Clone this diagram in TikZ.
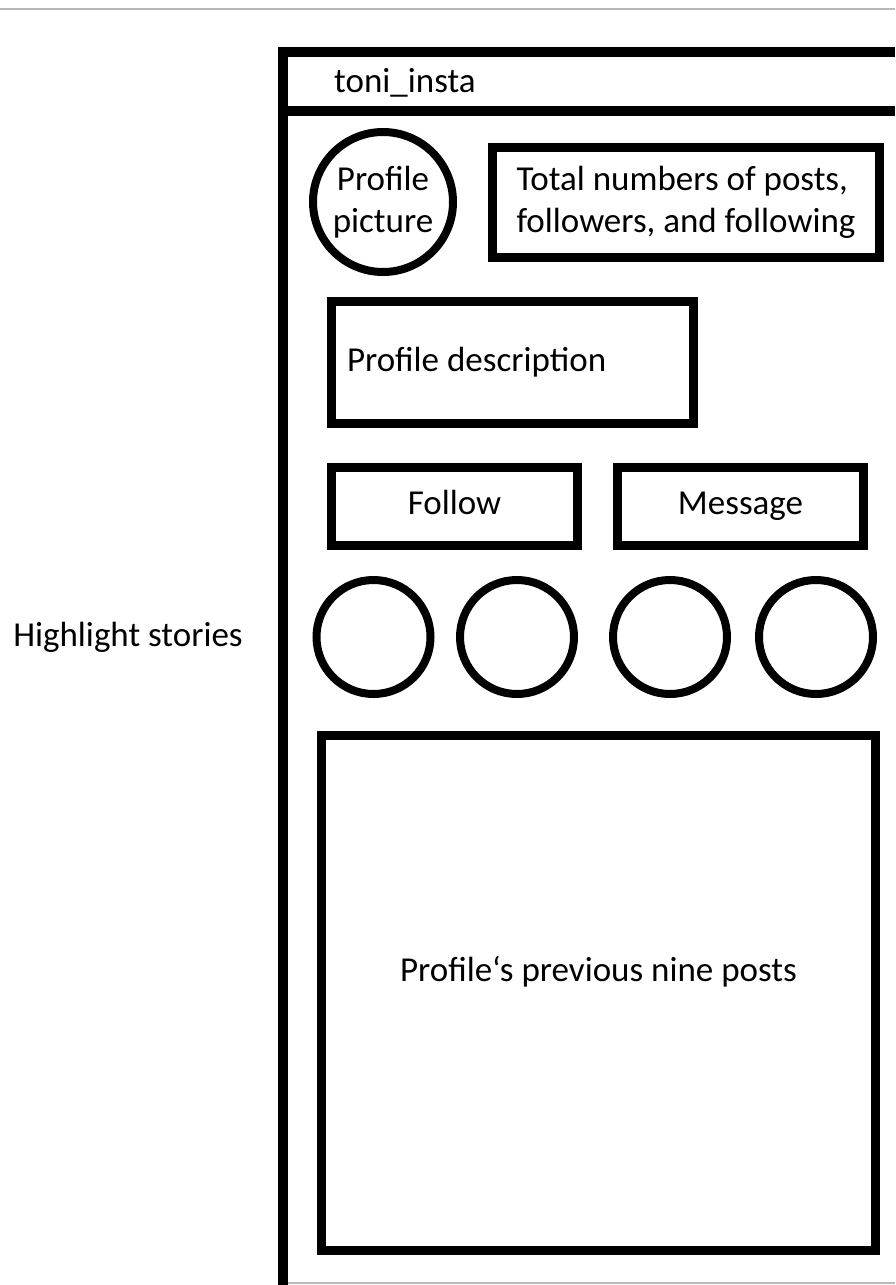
\documentclass[tikz,border=0pt]{standalone}
\usepackage{fontspec}
\setmainfont{Carlito}
\usetikzlibrary{positioning}

\begin{document}
\begin{tikzpicture}[x=1pt,y=-1pt,font=\fontsize{35}{42}\selectfont,
 box/.style={draw,rectangle,line width=9pt,inner sep=0pt},
 btn/.style={box,minimum width=246pt,minimum height=78pt,text height=24pt,text depth=8pt},
 ring/.style={draw,circle,line width=8pt,inner sep=0pt},
 frame/.style={line width=10pt},
 edge/.style={gray!55,line width=1.5pt}]
\useasboundingbox (0,0) rectangle (895,1285);
% screenshot edges
\draw[edge] (0,9)--(895,9);
\draw[edge] (282,1283)--(895,1283);
% phone frame and header bar
\draw[frame] (895,52) -| (283,1290);
\draw[frame] (283,111)--(895,111);
\node[anchor=base west,inner sep=0pt] (title) at (334,92) {toni\_insta};
% profile header
\node[ring,minimum size=140pt,align=center] (pic) at (383,202) {Profile\\picture};
\node[box,minimum width=387pt,minimum height=110pt,align=flush left] (stats) at (686,202.5) {Total numbers of posts,\\followers, and following};
\node[box,minimum width=362pt,minimum height=122pt,text width=331pt,inner xsep=15.5pt,align=flush left] (desc) at (512.5,362.5) {Profile description};
\node[btn] (follow) at (454.5,506.5) {Follow};
\node[btn,right=31pt of follow] (msg) {Message};
% highlight stories
\foreach \x [count=\i] in {373.5,517,670,816}
  \node[ring,minimum size=114pt] (hs\i) at (\x,637) {};
\node (hl) at (128,637) {Highlight stories};
% post grid
\node[box,minimum width=554pt,minimum height=515pt] (posts) at (598.5,993) {};
\node (poststxt) at ([yshift=21pt]posts.center) {Profile‘s previous nine posts};
\end{tikzpicture}
\end{document}
